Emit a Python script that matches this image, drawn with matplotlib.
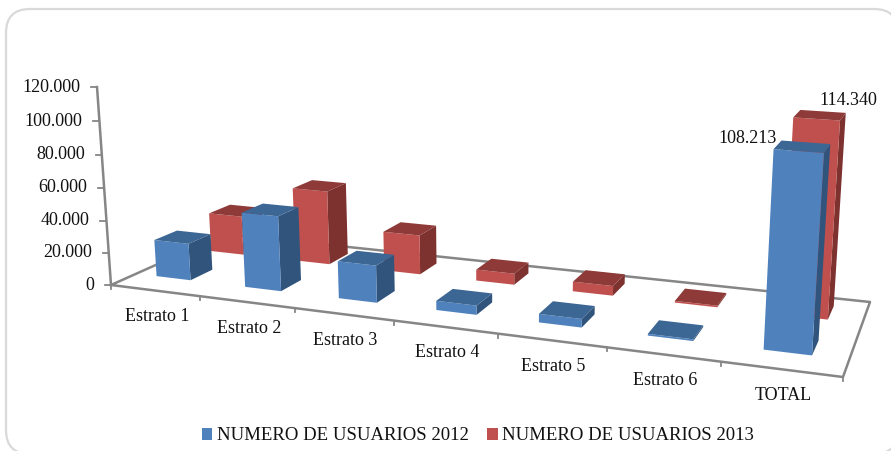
import numpy as np
import matplotlib
matplotlib.use("Agg")
import matplotlib.pyplot as plt
from matplotlib.patches import FancyBboxPatch, Patch, Polygon

categories = ["Estrato 1", "Estrato 2", "Estrato 3", "Estrato 4", "Estrato 5", "Estrato 6", "TOTAL"]
usuarios_2012 = [23000, 46000, 22500, 5500, 5000, 1000, 108213]
usuarios_2013 = [25500, 47500, 25000, 7000, 6000, 1000, 114340]
y_ticks = [0, 20000, 40000, 60000, 80000, 100000, 120000]
y_max = 120000
series_names = ["NUMERO DE USUARIOS 2012", "NUMERO DE USUARIOS 2013"]

BLUE = ("#4F81BD", "#3C6694", "#31547C")
RED = ("#C0504D", "#8E3A38", "#7D3230")
AXIS = "#868686"
TEXT = "#111111"

plt.rcParams["font.family"] = ["Liberation Serif"]

# floor corners in image pixels: front-left, front-right, back-right, back-left
FLOOR = [(111, 285), (843, 377), (870, 302), (225, 234)]
VANISH = np.array([496.0, 5737.0, 1.0])
WALL = -0.03504


def floor_matrix():
    unit = [(0, 0), (1, 0), (1, 1), (0, 1)]
    a, b = [], []
    for (u, v), (x, y) in zip(unit, FLOOR):
        a.append([u, v, 1, 0, 0, 0, -u * x, -v * x])
        a.append([0, 0, 0, u, v, 1, -u * y, -v * y])
        b += [x, y]
    h = np.linalg.solve(np.array(a, float), np.array(b, float))
    return np.append(h, 1).reshape(3, 3)


H = floor_matrix()


def project(u, v, val=0.0):
    """u along the categories, v floor depth, val in chart units -> pixels."""
    scale = WALL * (val / y_max) * (1 - 0.03 * u)
    p = H @ np.array([u, v, 1.0]) + scale * VANISH
    return p[0] / p[2], p[1] / p[2]


def front_u(t):
    # the category spacing in the picture is a bit flatter than the pure perspective
    return t + 0.009 * np.sin(np.pi * t)


def draw_bar(ax, u0, u1, v0, v1, val, colors, z):
    a, b = project(u0, v0, val), project(u1, v0, val)
    c, d = project(u1, v1, val), project(u0, v1, val)
    a0, b0, c0 = project(u0, v0), project(u1, v0), project(u1, v1)
    ax.add_patch(Polygon([c0, b0, b, c], fc=colors[2], ec="none", zorder=z))
    ax.add_patch(Polygon([a0, b0, b, a], fc=colors[0], ec="none", zorder=z))
    ax.add_patch(Polygon([a, b, c, d], fc=colors[1], ec="none", zorder=z))


fig = plt.figure(figsize=(8.91, 4.51), dpi=100)
ax = fig.add_axes([0, 0, 1, 1])
ax.set_xlim(0, 891)
ax.set_ylim(451, 0)
ax.axis("off")

ax.add_patch(FancyBboxPatch((6, 9), 892, 445, boxstyle="round,pad=0,rounding_size=24",
                            fc="white", ec="#D9D9D9", lw=1.6, zorder=0, clip_on=True))

# floor and value axis
floor_pts = [project(u, v) for u, v in [(0, 0), (1, 0), (1, 1), (0, 1), (0, 0)]]
ax.plot(*zip(*floor_pts), color=AXIS, lw=1.8, zorder=1)
ax.plot(*zip(project(0, 0), project(0, 0, y_max)), color=AXIS, lw=1.8, zorder=1)

n = len(categories)
for i in range(n + 1):
    x, y = project(front_u(i / n), 0)
    ax.plot([x, x], [y, y + 4], color=AXIS, lw=1.3, zorder=1)

for t in y_ticks:
    x, y = project(0, 0, t)
    ax.plot([x - 6, x], [y, y], color=AXIS, lw=1.3, zorder=1)
    ax.text(x - 17, y, f"{t:,}".replace(",", "."), ha="right", va="center", fontsize=13, color=TEXT)

BAR_W = 0.40
ROWS = [(0.20, 0.39), (0.68, 0.88)]
for row, vals, colors, base in [(1, usuarios_2013, RED, 2), (0, usuarios_2012, BLUE, 20)]:
    v0, v1 = ROWS[row]
    for i in range(n - 1, -1, -1):
        uc = (i + 0.5) / n
        uc -= 0.01 * max(0, 1 - 2.5 * uc)
        hw = BAR_W / n / 2
        draw_bar(ax, uc - hw, uc + hw, v0, v1, vals[i], colors, base + (n - i))

for i, name in enumerate(categories):
    x, y = project(front_u((i + 0.5) / n), 0)
    ax.text(x + 2, y + 26, name, ha="center", va="center", fontsize=13, color=TEXT)

for vals, row, dx, dy in [(usuarios_2012, 0, -51, -13), (usuarios_2013, 1, 32, -18)]:
    x, y = project((n - 0.5) / n, ROWS[row][0], vals[-1])
    ax.text(x + dx, y + dy, f"{vals[-1]:,}".replace(",", "."),
            ha="center", va="center", fontsize=13, color=TEXT, zorder=40)

handles = [Patch(fc=BLUE[0], label=series_names[0]), Patch(fc=RED[0], label=series_names[1])]
ax.legend(handles=handles, loc="center", bbox_to_anchor=(478, 436), bbox_transform=ax.transData,
          ncol=2, frameon=False, fontsize=13.5, handlelength=0.55, handleheight=0.55,
          handletextpad=0.25, columnspacing=1.0, borderpad=0, labelcolor=TEXT)

fig.savefig("out.png", dpi=100)
plt.close(fig)
